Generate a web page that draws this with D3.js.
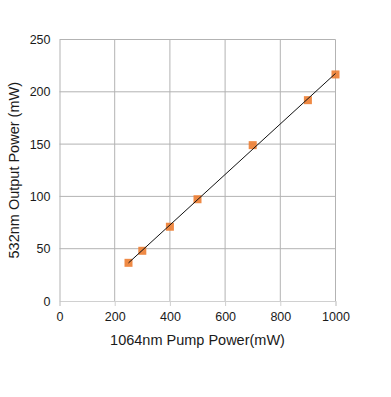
<!DOCTYPE html>
<html lang="en">
<head>
    <meta charset="UTF-8">
    <script src="https://d3js.org/d3.v7.min.js"></script>
    <title>532nm Output vs Pump Power</title>
    <style>
        body { margin: 0; background: #fff; }
        text { font-family: "Liberation Sans", Arial, sans-serif; fill: #1a1a1a; }
    </style>
</head>
<body>
    <script>
        // pump power (mW) and measured 532nm output (mW)
        var pumpPower = [250, 300, 400, 500, 700, 900, 1000];
        var outputPower = [36.5, 48, 71, 97.3, 149, 192, 216.6];
        var xTicks = [0, 200, 400, 600, 800, 1000];
        var yTicks = [0, 50, 100, 150, 200, 250];

        var svgWidth = 391, svgHeight = 397;
        var margin = { left: 59.5, top: 39.5, right: 55.5, bottom: 96 };
        var width = svgWidth - margin.left - margin.right;
        var height = svgHeight - margin.top - margin.bottom;

        var svg = d3.select('body')
            .append('svg')
            .attr('width', svgWidth)
            .attr('height', svgHeight);

        var g = svg.append('g')
            .attr('transform', 'translate(' + margin.left + ',' + margin.top + ')');

        var xScale = d3.scaleLinear().domain([0, 1000]).range([0, width]);
        var yScale = d3.scaleLinear().domain([0, 250]).range([height, 0]);

        // gridlines
        g.selectAll('.vgrid')
            .data(xTicks.slice(1))
            .enter()
            .append('line')
            .attr('x1', d => xScale(d)).attr('x2', d => xScale(d))
            .attr('y1', 0).attr('y2', height)
            .attr('stroke', '#b3b3b3');

        g.selectAll('.hgrid')
            .data(yTicks.slice(1))
            .enter()
            .append('line')
            .attr('x1', 0).attr('x2', width)
            .attr('y1', d => yScale(d)).attr('y2', d => yScale(d))
            .attr('stroke', '#b3b3b3');

        // axes
        var xAxis = g.append('g')
            .attr('transform', 'translate(0,' + height + ')')
            .call(d3.axisBottom(xScale).tickValues(xTicks).tickFormat(d3.format('d')).tickSize(5).tickPadding(6));
        xAxis.select('.domain').attr('stroke', '#d0d0d0');
        xAxis.selectAll('.tick line').attr('stroke', '#d0d0d0');

        var yAxis = g.append('g')
            .call(d3.axisLeft(yScale).tickValues(yTicks).tickSize(0).tickPadding(9));
        yAxis.select('.domain').attr('stroke', '#b3b3b3');

        svg.selectAll('.tick text')
            .attr('font-size', '12.5px')
            .attr('font-family', '"Liberation Sans", Arial, sans-serif')
            .attr('fill', '#1a1a1a');

        // linear trendline through the measurements
        var mx = d3.mean(pumpPower), my = d3.mean(outputPower);
        var sxy = d3.sum(pumpPower, (x, i) => (x - mx) * (outputPower[i] - my));
        var sxx = d3.sum(pumpPower, x => (x - mx) * (x - mx));
        var slope = sxy / sxx;
        var intercept = my - slope * mx;
        var xMin = d3.min(pumpPower), xMax = d3.max(pumpPower);

        // markers
        var size = 8;
        g.selectAll('rect.pt')
            .data(pumpPower)
            .enter()
            .append('rect')
            .attr('class', 'pt')
            .attr('x', d => xScale(d) - size / 2)
            .attr('y', (d, i) => yScale(outputPower[i]) - size / 2)
            .attr('width', size)
            .attr('height', size)
            .attr('fill', '#ed7d31')
            .attr('fill-opacity', 0.9);

        // trendline on top of markers
        g.append('line')
            .attr('x1', xScale(xMin)).attr('y1', yScale(intercept + slope * xMin))
            .attr('x2', xScale(xMax)).attr('y2', yScale(intercept + slope * xMax))
            .attr('stroke', '#111')
            .attr('stroke-width', 1);

        // axis titles
        svg.append('text')
            .attr('x', margin.left + width / 2)
            .attr('y', 345)
            .attr('text-anchor', 'middle')
            .attr('font-size', '14.5px')
            .text('1064nm Pump Power(mW)');

        svg.append('text')
            .attr('transform', 'translate(19,' + (margin.top + height / 2) + ') rotate(-90)')
            .attr('text-anchor', 'middle')
            .attr('font-size', '14.5px')
            .text('532nm Output Power (mW)');
    </script>
</body>
</html>
